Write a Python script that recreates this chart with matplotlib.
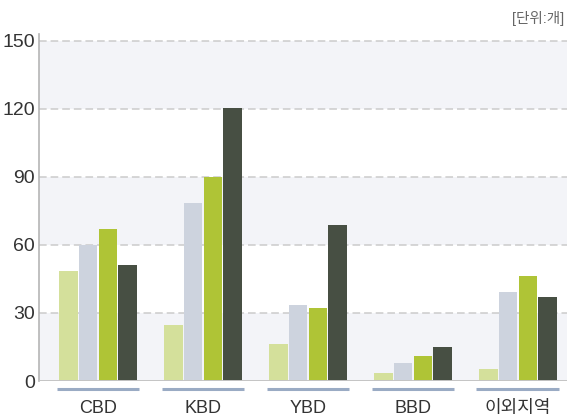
import matplotlib
matplotlib.use("Agg")
import matplotlib.pyplot as plt
import numpy as np

plt.rcParams['font.family'] = ['Liberation Sans', 'Noto Sans CJK KR', 'DejaVu Sans']

categories = ["CBD", "KBD", "YBD", "BBD", "이외지역"]
series1 = [48.5, 24.5, 16.5, 3.7, 5.3]
series2 = [60, 78.5, 33.5, 8, 39.3]
series3 = [67, 90, 32.3, 11, 46.3]
series4 = [51, 120.5, 68.8, 15, 37]
yticks = [0, 30, 60, 90, 120, 150]
unit_label = "[단위:개]"

colors = ["#d4e09b", "#cdd3de", "#afc436", "#474f43"]

fig = plt.figure(figsize=(5.67, 4.16), dpi=100)
ax = fig.add_axes([39/567, 35/416, 1 - 39/567, (381-34)/416])

x = np.arange(len(categories))
stride = 0.188
width = 0.176
for i, (vals, c) in enumerate(zip([series1, series2, series3, series4], colors)):
    ax.bar(x + (i - 1.5) * stride, vals, width=width, color=c, zorder=3)

# background bands
for lo in (0, 60, 120):
    ax.axhspan(lo, lo + 30, color="#f3f4f8", zorder=0, lw=0)

for t in yticks[1:]:
    ax.axhline(t, color="#cbcbcb", lw=1.1, ls=(0, (5, 2.6)), zorder=1)
ax.axhline(0, color="#c4c4c4", lw=1.4, zorder=4)

ax.set_xlim(-0.562, 4.467)
ax.set_ylim(0, 153)
ax.set_yticks(yticks)
ax.set_yticklabels([str(t) for t in yticks], fontsize=14, color="#333333")
ax.set_xticks(x)
ax.set_xticklabels(categories, fontsize=13, color="#333333")
ax.tick_params(axis="both", length=0)
ax.tick_params(axis="y", pad=3)
ax.tick_params(axis="x", pad=14)

for s in ["top", "right", "bottom"]:
    ax.spines[s].set_visible(False)
ax.spines["left"].set_color("#b5b5b5")
ax.spines["left"].set_linewidth(1.2)

# group underline segments
for xi in x:
    ax.plot([xi - 0.395, xi + 0.395], [-3.5, -3.5], color="#9aabc4", lw=2.2,
            solid_capstyle="butt", clip_on=False, zorder=5)

fig.text(564/567, 1 - 18/416, unit_label, ha="right", va="center",
         fontsize=10.5, color="#666666")

fig.savefig("out.png", dpi=100)
